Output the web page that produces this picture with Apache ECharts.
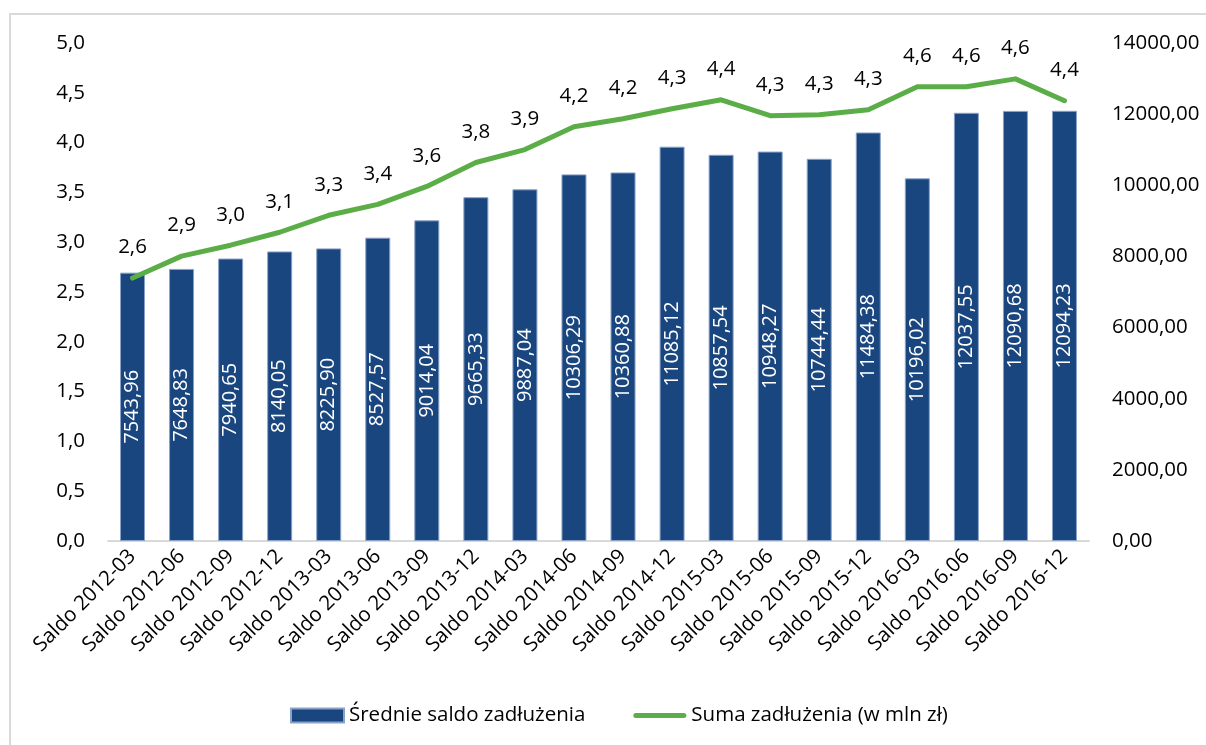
<!DOCTYPE html>
<html>
<head>
<meta charset="utf-8">
<script src="https://cdn.jsdelivr.net/npm/echarts@6/dist/echarts.min.js"></script>
<style>
  html, body { margin: 0; padding: 0; background: #fff; }
  #chart { width: 1206px; height: 745px; }
</style>
</head>
<body>
<div id="chart"></div>
<script>
const categories = ['Saldo 2012-03', 'Saldo 2012-06', 'Saldo 2012-09', 'Saldo 2012-12',
  'Saldo 2013-03', 'Saldo 2013-06', 'Saldo 2013-09', 'Saldo 2013-12',
  'Saldo 2014-03', 'Saldo 2014-06', 'Saldo 2014-09', 'Saldo 2014-12',
  'Saldo 2015-03', 'Saldo 2015-06', 'Saldo 2015-09', 'Saldo 2015-12',
  'Saldo 2016-03', 'Saldo 2016.06', 'Saldo 2016-09', 'Saldo 2016-12']
// slupki - os prawa
const saldo = [7543.96, 7648.83, 7940.65, 8140.05, 8225.90, 8527.57, 9014.04, 9665.33,
  9887.04, 10306.29, 10360.88, 11085.12, 10857.54, 10948.27, 10744.44, 11484.38,
  10196.02, 12037.55, 12090.68, 12094.23]
// linia - os lewa
const suma = [2.64, 2.86, 2.97, 3.10, 3.27, 3.38, 3.56, 3.80, 3.93, 4.16, 4.24, 4.34,
  4.43, 4.27, 4.28, 4.33, 4.56, 4.56, 4.64, 4.42]

const font = 'Open Sans'
const comma = (v, d) => Number(v).toFixed(d).replace('.', ',')

const chart = echarts.init(document.getElementById('chart'))
chart.setOption({
  backgroundColor: '#fff',
  textStyle: { fontFamily: font },
  graphic: [{
    type: 'rect',
    shape: { x: 10, y: 14, width: 1300, height: 900 },
    style: { fill: 'none', stroke: '#D9D9D9', lineWidth: 2 },
    silent: true
  }],
  grid: { left: 108, right: 117, top: 43, bottom: 204 },
  legend: {
    bottom: 14,
    left: 285,
    itemWidth: 53,
    itemHeight: 14,
    itemGap: 48,
    textStyle: { fontFamily: font, fontSize: 20.5, color: '#000' },
    data: [
      { name: 'Średnie saldo zadłużenia', icon: 'rect' },
      {
        name: 'Suma zadłużenia (w mln zł)',
        icon: 'path://M2.5,0 L50.5,0 A2.5,2.5 0 0 1 50.5,5 L2.5,5 A2.5,2.5 0 0 1 2.5,0 Z',
        itemStyle: { color: '#5BAE47' }
      }
    ]
  },
  xAxis: {
    type: 'category',
    data: categories,
    axisLine: { lineStyle: { color: '#D9D9D9', width: 2 } },
    axisTick: { show: false },
    axisLabel: {
      rotate: 45,
      interval: 0,
      margin: 12,
      color: '#000',
      fontFamily: font,
      fontSize: 20.5
    }
  },
  yAxis: [{
    type: 'value',
    min: 0,
    max: 5,
    interval: 0.5,
    splitLine: { show: false },
    axisLabel: {
      margin: 23,
      color: '#000',
      fontFamily: font,
      fontSize: 20.5,
      formatter: v => comma(v, 1)
    }
  }, {
    type: 'value',
    position: 'right',
    min: 0,
    max: 14000,
    interval: 2000,
    splitLine: { show: false },
    axisLabel: {
      margin: 23,
      color: '#000',
      fontFamily: font,
      fontSize: 20.5,
      formatter: v => comma(v, 2)
    }
  }],
  series: [{
    name: 'Średnie saldo zadłużenia',
    type: 'bar',
    yAxisIndex: 1,
    barWidth: 25,
    itemStyle: { color: '#1A4680', borderColor: '#8AA2C8', borderWidth: 1 },
    label: {
      show: true,
      position: 'inside',
      rotate: 90,
      color: '#fff',
      fontFamily: font,
      fontSize: 20,
      formatter: p => comma(p.value, 2)
    },
    data: saldo
  }, {
    name: 'Suma zadłużenia (w mln zł)',
    type: 'line',
    yAxisIndex: 0,
    symbol: 'circle',
    symbolSize: 0,
    showSymbol: true,
    z: 5,
    lineStyle: { color: '#5BAE47', width: 5, cap: 'round', join: 'round' },
    itemStyle: { color: '#5BAE47' },
    label: {
      show: true,
      position: 'top',
      distance: 20,
      color: '#000',
      fontFamily: font,
      fontSize: 20.5,
      formatter: p => comma(p.value, 1)
    },
    data: suma
  }]
})
</script>
</body>
</html>
